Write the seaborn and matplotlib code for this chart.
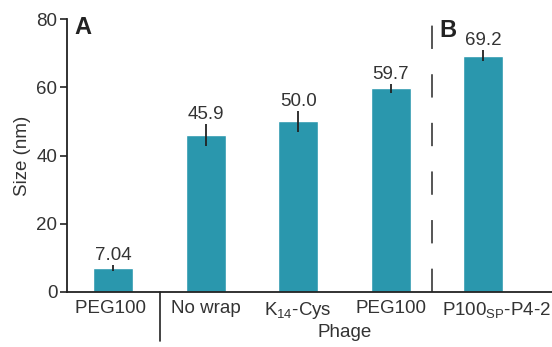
import matplotlib
matplotlib.use("Agg")
import matplotlib.pyplot as plt
import matplotlib.transforms as mtransforms
from matplotlib.lines import Line2D
import seaborn as sns
import pandas as pd

# Particle size per formulation
categories = ["PEG100 ", "No wrap", "K$_{14}$-Cys", "PEG100", "P100$_{SP}$-P4-2"]
sizes = [7.04, 45.9, 50.0, 59.7, 69.2]
errors = [1.0, 3.2, 3.0, 1.3, 1.6]
value_labels = ["7.04", "45.9", "50.0", "59.7", "69.2"]
yticks = [0, 20, 40, 60, 80]

sns.set_theme(style="ticks")
plt.rcParams["font.family"] = ["Liberation Sans", "DejaVu Sans"]
plt.rcParams["mathtext.fontset"] = "custom"
plt.rcParams["mathtext.rm"] = "Liberation Sans"
plt.rcParams["mathtext.it"] = "Liberation Sans"

bar_color = "#2A97AD"
text_color = "#333333"
fs = 13.5

df = pd.DataFrame({"Phage": categories, "Size": sizes})

fig = plt.figure(figsize=(5.52, 3.47), dpi=100)
ax = fig.add_axes([67 / 552, 55 / 347, 555 / 552, 273 / 347])

sns.barplot(data=df, x="Phage", y="Size", color=bar_color, width=0.43,
            saturation=1, errorbar=None, ax=ax)
ax.errorbar(range(len(sizes)), sizes, yerr=errors, fmt="none",
            ecolor="#222222", elinewidth=1.3, capsize=0)

for i, (v, e, lab) in enumerate(zip(sizes, errors, value_labels)):
    ax.text(i, v + e + 0.3, lab, ha="center", va="bottom",
            fontsize=fs, color=text_color)

ax.set_xlim(-0.5, 5.5)
ax.set_ylim(0, 80)
ax.set_yticks(yticks)
ax.set_xticks(range(len(categories)))
ax.set_xticklabels(categories)
ax.tick_params(axis="x", length=0, pad=6, labelsize=fs, colors=text_color)
ax.tick_params(axis="y", length=5, width=1.2, pad=2, labelsize=fs,
               colors=text_color)
ax.tick_params(axis="both", color="#222222")

# Last label starts left of its bar centre
last = ax.get_xticklabels()[-1]
last.set_ha("left")
last.set_transform(last.get_transform() +
                   mtransforms.ScaledTranslation(-41 / 100, 0, fig.dpi_scale_trans))

ax.set_xlabel("Phage", fontsize=fs, color=text_color, labelpad=2)
ax.set_ylabel("Size (nm)", fontsize=fs, color=text_color, labelpad=4)

for side in ["top", "right"]:
    ax.spines[side].set_visible(False)
for side in ["left", "bottom"]:
    ax.spines[side].set_linewidth(1.3)
    ax.spines[side].set_color("#222222")

trans = mtransforms.blended_transform_factory(ax.transData, ax.transAxes)
# Solid separator below the axis between groups
ax.add_line(Line2D([0.5, 0.5], [0, -0.18], transform=trans, color="#222222",
                   lw=1.2, clip_on=False))
# Dashed separator between panels
ax.add_line(Line2D([3.45, 3.45], [0, 0.985], transform=trans, color="#555555",
                   lw=1.4, linestyle=(0, (12, 13)), clip_on=False))

ax.text(74 / 552, 331 / 347, "A", transform=fig.transFigure, fontsize=17,
        fontweight="bold", color="#222222", va="top", ha="left")
ax.text(439 / 552, 328 / 347, "B", transform=fig.transFigure, fontsize=17,
        fontweight="bold", color="#222222", va="top", ha="left")

fig.savefig("out.png", dpi=100)
